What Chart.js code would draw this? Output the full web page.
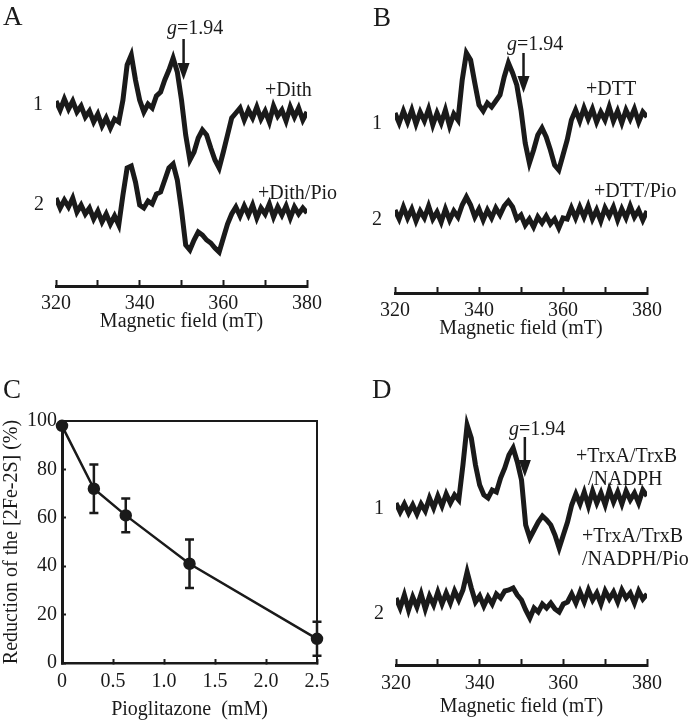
<!DOCTYPE html>
<html>
<head>
<meta charset="utf-8">
<script src="https://cdn.jsdelivr.net/npm/chart.js@4.4.0/dist/chart.umd.min.js"></script>
<style>
body { margin: 0; background: #fff; }
#fig { position: relative; width: 688px; height: 725px; font-family: "Liberation Serif", "Times New Roman", serif; color: #1a1a1a; }
#fig canvas { position: absolute; }
.t { position: absolute; font-size: 20px; line-height: 20px; white-space: nowrap; }
.p { position: absolute; font-size: 27px; line-height: 27px; }
</style>
</head>
<body>
<div id="fig">
  <canvas id="eprA" width="344" height="345" style="left:0;top:0"></canvas>
  <canvas id="eprB" width="344" height="345" style="left:344px;top:0"></canvas>
  <canvas id="pioC" width="344" height="380" style="left:0;top:345px"></canvas>
  <canvas id="eprD" width="344" height="380" style="left:344px;top:345px"></canvas>

  <!-- panel A -->
  <div class="p" style="left:3px;top:3px">A</div>
  <div class="t" style="left:167px;top:17px"><i>g</i>=1.94</div>
  <div class="t" style="left:33px;top:93px">1</div>
  <div class="t" style="left:34px;top:193px">2</div>
  <div class="t" style="left:265px;top:79px">+Dith</div>
  <div class="t" style="left:258px;top:182px">+Dith/Pio</div>

  <!-- panel B -->
  <div class="p" style="left:373px;top:4px">B</div>
  <div class="t" style="left:507px;top:33px"><i>g</i>=1.94</div>
  <div class="t" style="left:372px;top:112px">1</div>
  <div class="t" style="left:372px;top:208px">2</div>
  <div class="t" style="left:586px;top:78px">+DTT</div>
  <div class="t" style="left:594px;top:180px">+DTT/Pio</div>

  <!-- panel C -->
  <div class="p" style="left:3px;top:376px">C</div>

  <!-- panel D -->
  <div class="p" style="left:372px;top:376px">D</div>
  <div class="t" style="left:509px;top:418px"><i>g</i>=1.94</div>
  <div class="t" style="left:576px;top:445px">+TrxA/TrxB</div>
  <div class="t" style="left:588px;top:468px">/NADPH</div>
  <div class="t" style="left:582px;top:525px">+TrxA/TrxB</div>
  <div class="t" style="left:582px;top:548px">/NADPH/Pio</div>
  <div class="t" style="left:374px;top:497px">1</div>
  <div class="t" style="left:374px;top:602px">2</div>
</div>

<script>
// magnetic field (mT), one reading per mT
const field = [320,321,322,323,324,325,326,327,328,329,330,331,332,333,334,335,336,337,338,339,
  340,341,342,343,344,345,346,347,348,349,350,351,352,353,354,355,356,357,358,359,
  360,361,362,363,364,365,366,367,368,369,370,371,372,373,374,375,376,377,378,379,380];

// EPR signal (a.u.)
const dith = [9,0,11,1,9,-2,4,-7,-1,-12, -4,-16,-8,-18,-9,-12,10,45,55,30,
  10,-2,6,2,14,18,30,40,52,38, 10,-25,-50,-42,-28,-20,-25,-38,-50,-58,
  -42,-25,-8,-3,2,-10,0,-8,3,-9, -1,-12,4,-6,0,-11,3,-7,2,-10,-2];
const dithPio = [12,2,10,3,12,-2,5,-4,2,-9, -1,-12,-4,-14,-6,-15,15,42,44,28,
  5,2,9,6,16,18,30,42,46,30, 0,-35,-40,-30,-22,-25,-30,-33,-38,-42,
  -28,-14,-4,3,-6,4,-5,5,-8,2, -4,6,-7,3,-5,4,-8,3,-4,2,-3];
const dtt = [2,-8,4,-7,5,-9,3,-6,6,-10, 2,-8,5,-11,1,-5,35,62,55,32,
  10,4,12,8,14,20,38,52,42,30, 5,-28,-48,-35,-20,-13,-22,-35,-50,-55,
  -40,-25,-5,5,-6,7,-4,6,-7,3, -5,8,-6,4,-8,5,-4,6,-7,3,-2];
const dttPio = [3,-6,6,-5,4,-8,2,-5,7,-6, 1,-9,4,-7,2,-4,8,16,8,-4,
  4,-7,3,-5,5,-2,7,12,6,-6, -2,-12,-6,-14,-4,-10,-3,-11,-6,-15,
  -5,-6,5,-5,6,-4,7,-6,3,-8, 5,-3,6,-7,4,-5,7,-4,3,-7,2];
const trx = [-3,-12,-4,-13,-5,-14,-4,-11,2,-8, 4,-6,6,-3,5,0,35,75,62,35,
  15,5,2,10,8,22,32,45,52,38, 20,-25,-38,-30,-22,-16,-20,-25,-35,-48,
  -35,-22,-5,6,-4,8,-6,9,-3,7, -5,10,-2,8,-4,9,0,7,-3,10,4];
const trxPio = [2,-8,5,-10,3,-7,6,-9,4,-5, 8,-4,7,-3,9,0,10,28,12,-2,
  4,-6,3,-4,6,2,9,10,12,5, 0,-10,-18,-8,-12,-4,-8,-3,-9,-12,
  -4,-2,6,-3,8,-2,10,0,7,-4, 9,1,8,-2,10,2,7,-3,9,1,6];

// vertical offsets of the stacked spectra (trace 1, trace 2)
const offsetA = [100, 0];
const offsetB = [98, 0];
const offsetD = [100, 0];

// panel C: reduction vs pioglitazone
const pioConc = [0, 0.3125, 0.625, 1.25, 2.5];
const reduction = [98, 72, 61, 41, 10];
const reductionSd = [0, 10, 7, 10, 7];

const INK = '#1a1a1a';
const FONT = '"Liberation Serif", "Times New Roman", serif';
Chart.defaults.font.family = FONT;
Chart.defaults.color = INK;

// g = 1.94 marker arrow
const gArrow = {
  id: 'gArrow',
  afterDraw(chart, args, o) {
    const {ctx, scales: {x, y}} = chart;
    const px = x.getPixelForValue(o.field);
    const y0 = y.getPixelForValue(o.from), y1 = y.getPixelForValue(o.to);
    ctx.save();
    ctx.strokeStyle = INK; ctx.fillStyle = INK; ctx.lineWidth = 2.5;
    ctx.beginPath(); ctx.moveTo(px, y0); ctx.lineTo(px, y1 - 12); ctx.stroke();
    ctx.beginPath();
    ctx.moveTo(px - 6, y1 - 17); ctx.lineTo(px + 6, y1 - 17); ctx.lineTo(px, y1);
    ctx.closePath(); ctx.fill();
    ctx.restore();
  }
};

function eprChart(id, traces, offsets, box) {
  return new Chart(id, {
    type: 'line',
    data: {
      datasets: traces.map((t, k) => ({
        data: field.map((f, i) => ({x: f, y: t[i] + offsets[k]})),
        borderColor: INK,
        borderWidth: 5,
        pointRadius: 0,
        tension: 0
      }))
    },
    plugins: [gArrow],
    options: {
      responsive: false,
      animation: false,
      layout: {padding: box.pad},
      plugins: {
        legend: {display: false},
        tooltip: {enabled: false},
        gArrow: box.arrow
      },
      scales: {
        x: {
          type: 'linear', min: 320, max: 380,
          afterFit: s => { s.height = box.axisH; },
          border: {color: INK, width: 3},
          grid: {drawOnChartArea: false, color: INK, tickLength: -6, tickWidth: 2},
          ticks: {stepSize: 10, autoSkip: false, maxRotation: 0, padding: box.tickPad,
                  color: INK, font: {size: 20, lineHeight: 1},
                  callback: v => v % 20 === 0 ? String(v) : ''},
          title: {display: true, text: 'Magnetic field (mT)', color: INK,
                  font: {size: 20, lineHeight: 1}, padding: 0}
        },
        y: {display: false, min: box.yMin, max: box.yMax}
      }
    }
  });
}

eprChart('eprA', [dith, dithPio], offsetA, {
  pad: {left: 56, right: 37, top: 10, bottom: 13}, axisH: 46, tickPad: 14,
  yMin: -76, yMax: 200, arrow: {field: 350.5, from: 171, to: 130}
});
eprChart('eprB', [dtt, dttPio], offsetB, {
  pad: {left: 51, right: 41, top: 10, bottom: 6}, axisH: 46, tickPad: 14,
  yMin: -80, yMax: 203, arrow: {field: 350.6, from: 160, to: 120}
});
eprChart('eprD', [trx, trxPio], offsetD, {
  pad: {left: 52, right: 41, top: 40, bottom: 8}, axisH: 52, tickPad: 15,
  yMin: -65, yMax: 215, arrow: {field: 350.8, from: 163, to: 123}
});

// error bars for panel C
const errorBars = {
  id: 'errorBars',
  afterDatasetsDraw(chart) {
    const {ctx, scales: {x, y}} = chart;
    ctx.save();
    ctx.strokeStyle = INK; ctx.lineWidth = 2.5;
    pioConc.forEach((c, i) => {
      if (!reductionSd[i]) return;
      const px = x.getPixelForValue(c);
      const top = y.getPixelForValue(reduction[i] + reductionSd[i]);
      const bot = y.getPixelForValue(reduction[i] - reductionSd[i]);
      ctx.beginPath();
      ctx.moveTo(px, top); ctx.lineTo(px, bot);
      ctx.moveTo(px - 4.5, top); ctx.lineTo(px + 4.5, top);
      ctx.moveTo(px - 4.5, bot); ctx.lineTo(px + 4.5, bot);
      ctx.stroke();
    });
    ctx.restore();
  }
};

new Chart('pioC', {
  type: 'line',
  data: {
    datasets: [{
      data: pioConc.map((c, i) => ({x: c, y: reduction[i]})),
      borderColor: INK,
      borderWidth: 2.5,
      backgroundColor: INK,
      pointRadius: 5,
      pointBackgroundColor: INK,
      pointBorderColor: INK,
      tension: 0,
      clip: false
    }]
  },
  plugins: [errorBars],
  options: {
    responsive: false,
    animation: false,
    layout: {padding: {left: 0, right: 27, top: 76, bottom: 5}},
    plugins: {legend: {display: false}, tooltip: {enabled: false}},
    scales: {
      x: {
        type: 'linear', min: 0, max: 2.5,
        afterFit: s => { s.height = 57; },
        border: {color: INK, width: 2.5},
        grid: {drawOnChartArea: false, color: INK, tickLength: -4, tickWidth: 2},
        ticks: {stepSize: 0.5, autoSkip: false, maxRotation: 0, padding: 13, color: INK,
                font: {size: 20, lineHeight: 1},
                callback: v => v === 0 ? '0' : v.toFixed(1)},
        title: {display: true, text: 'Pioglitazone  (mM)', color: INK,
                font: {size: 20, lineHeight: 1}, padding: 0}
      },
      y: {
        min: 0, max: 100,
        afterFit: s => { s.width = 62; },
        border: {color: INK, width: 3},
        grid: {drawOnChartArea: false, color: INK, tickLength: -4, tickWidth: 2},
        ticks: {stepSize: 20, padding: 9, color: INK, font: {size: 20, lineHeight: 1}},
        title: {display: true, text: 'Reduction of the [2Fe-2S] (%)', color: INK,
                font: {size: 20, lineHeight: 1}, padding: {top: 2, bottom: 0}}
      },
      xTop: {
        type: 'linear', position: 'top', min: 0, max: 2.5,
        border: {color: INK, width: 2},
        grid: {drawOnChartArea: false, drawTicks: false},
        ticks: {display: false}
      },
      yRight: {
        type: 'linear', position: 'right', min: 0, max: 100,
        border: {color: INK, width: 2},
        grid: {drawOnChartArea: false, drawTicks: false},
        ticks: {display: false}
      }
    }
  }
});
</script>
</body>
</html>
